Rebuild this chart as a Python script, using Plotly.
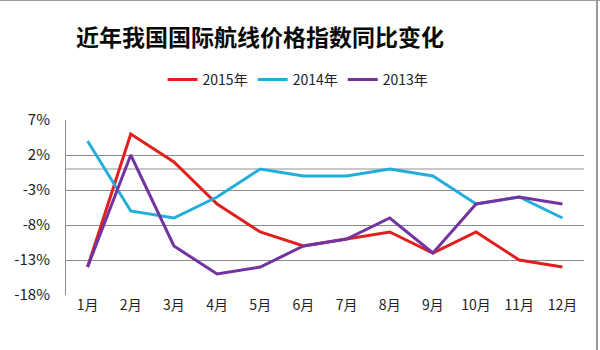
import plotly.graph_objects as go

months = ["1月", "2月", "3月", "4月", "5月", "6月", "7月", "8月", "9月", "10月", "11月", "12月"]
y2015 = [-14, 5, 1, -5, -9, -11, -10, -9, -12, -9, -13, -14]
y2014 = [4, -6, -7, -4, 0, -1, -1, 0, -1, -5, -4, -7]
y2013 = [-14, 2, -11, -15, -14, -11, -10, -7, -12, -5, -4, -5]
tick_vals = [7, 2, -3, -8, -13, -18]
tick_text = ["7%", "2%", "-3%", "-8%", "-13%", "-18%"]

series = [
    ("2015年", y2015, "#e0201c"),
    ("2014年", y2014, "#22aedb"),
    ("2013年", y2013, "#7234a0"),
]

FONT = "Noto Sans CJK SC, Microsoft YaHei, sans-serif"

fig = go.Figure()
for name, vals, color in series:
    fig.add_trace(go.Scatter(
        x=months, y=vals, name=name, mode="lines",
        line=dict(color=color, width=3),
    ))

fig.update_layout(
    width=600, height=350,
    margin=dict(l=66, r=16, t=120, b=55),
    paper_bgcolor="white", plot_bgcolor="white",
    font=dict(family=FONT, size=14, color="#222"),
    title=dict(
        text="<b>近年我国国际航线价格指数同比变化</b>",
        x=260 / 600, xanchor="center", y=1 - 38 / 350, yanchor="middle",
        font=dict(family=FONT, size=23, color="#0a0a0a"),
    ),
    legend=dict(
        orientation="h", x=0.448, xanchor="center", y=1.229, yanchor="middle",
        font=dict(family=FONT, size=14, color="#222"),
        itemwidth=30, tracegroupgap=0,
    ),
    showlegend=True,
)

fig.update_xaxes(
    showgrid=False, showline=False, ticks="",
    tickfont=dict(family=FONT, size=14, color="#222"),
    range=[-0.5, 11.5],
)
fig.update_yaxes(
    range=[-18, 7], tickvals=tick_vals, ticktext=tick_text,
    showgrid=True, gridcolor="#8c8c8c", gridwidth=1,
    zeroline=True, zerolinecolor="#c8c8c8", zerolinewidth=2,
    showline=True, linecolor="#8c8c8c", linewidth=1,
    ticks="", ticklabelstandoff=12,
    tickfont=dict(family=FONT, size=15, color="#222"),
)

# frame edges along the top and right of the picture
fig.add_shape(type="line", xref="paper", yref="paper",
              x0=-66 / 518, x1=(600 - 66) / 518, y0=(295) / 175, y1=(295) / 175,
              line=dict(color="#9a9a9a", width=2))
fig.add_shape(type="line", xref="paper", yref="paper",
              x0=(597 - 66) / 518, x1=(597 - 66) / 518, y0=(295 - 350) / 175, y1=295 / 175,
              line=dict(color="#9a9a9a", width=2))

fig.write_html("out.html")
